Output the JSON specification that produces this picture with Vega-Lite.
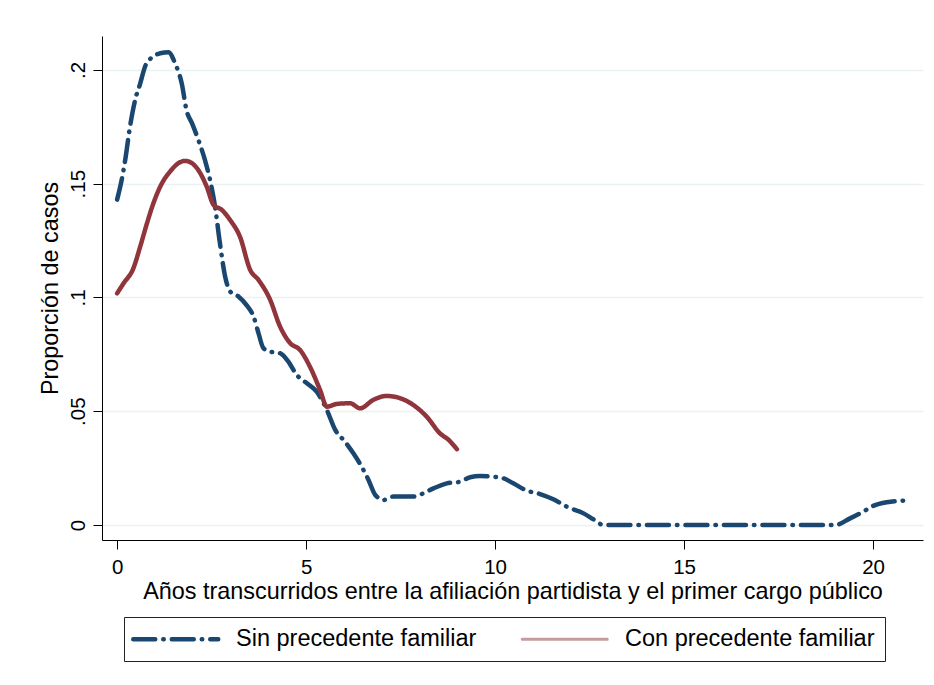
{
  "$schema": "https://vega.github.io/schema/vega-lite/v6.json",
  "width": 821,
  "height": 504,
  "autosize": {"type": "none"},
  "padding": {"left": 102, "top": 36, "right": 11, "bottom": 145},
  "background": "#ffffff",
  "config": {
    "view": {"stroke": null},
    "font": "Liberation Sans",
    "axis": {
      "domainColor": "#000000",
      "domainWidth": 1,
      "tickColor": "#000000",
      "tickWidth": 1,
      "tickSize": 9,
      "labelFont": "Liberation Sans",
      "labelFontSize": 20.5,
      "labelColor": "#000000",
      "titleFont": "Liberation Sans",
      "titleFontSize": 23.4,
      "titleFontWeight": "normal",
      "titleColor": "#000000",
      "gridColor": "#eaf2f3",
      "gridWidth": 1.5
    },
    "legend": {
      "orient": "none",
      "legendX": 22,
      "legendY": 581,
      "direction": "horizontal",
      "columns": 2,
      "strokeColor": "#222222",
      "strokeWidth": 1,
      "padding": 10,
      "symbolType": "M-3.4,0H3.4",
      "symbolSize": 625,
      "symbolStrokeWidth": 4.5,
      "symbolOffset": 30,
      "labelFont": "Liberation Sans",
      "labelFontSize": 23.5,
      "labelColor": "#000000",
      "labelOffset": 48.5,
      "columnPadding": 39,
      "labelLimit": 400
    }
  },
  "data": {
    "values": [
      {"x": 0, "y": 0.143, "s": "Sin precedente familiar"},
      {"x": 0.12, "y": 0.1516, "s": "Sin precedente familiar"},
      {"x": 0.21, "y": 0.160, "s": "Sin precedente familiar"},
      {"x": 0.34, "y": 0.175, "s": "Sin precedente familiar"},
      {"x": 0.48, "y": 0.187, "s": "Sin precedente familiar"},
      {"x": 0.61, "y": 0.194, "s": "Sin precedente familiar"},
      {"x": 0.74, "y": 0.2015, "s": "Sin precedente familiar"},
      {"x": 0.92, "y": 0.2055, "s": "Sin precedente familiar"},
      {"x": 1.14, "y": 0.2073, "s": "Sin precedente familiar"},
      {"x": 1.36, "y": 0.2078, "s": "Sin precedente familiar"},
      {"x": 1.53, "y": 0.203, "s": "Sin precedente familiar"},
      {"x": 1.71, "y": 0.194, "s": "Sin precedente familiar"},
      {"x": 1.84, "y": 0.182, "s": "Sin precedente familiar"},
      {"x": 1.98, "y": 0.1766, "s": "Sin precedente familiar"},
      {"x": 2.15, "y": 0.1692, "s": "Sin precedente familiar"},
      {"x": 2.33, "y": 0.160, "s": "Sin precedente familiar"},
      {"x": 2.46, "y": 0.1516, "s": "Sin precedente familiar"},
      {"x": 2.59, "y": 0.140, "s": "Sin precedente familiar"},
      {"x": 2.72, "y": 0.1238, "s": "Sin precedente familiar"},
      {"x": 2.86, "y": 0.109, "s": "Sin precedente familiar"},
      {"x": 2.99, "y": 0.1026, "s": "Sin precedente familiar"},
      {"x": 3.21, "y": 0.1004, "s": "Sin precedente familiar"},
      {"x": 3.43, "y": 0.0965, "s": "Sin precedente familiar"},
      {"x": 3.61, "y": 0.0916, "s": "Sin precedente familiar"},
      {"x": 3.74, "y": 0.0843, "s": "Sin precedente familiar"},
      {"x": 3.87, "y": 0.0777, "s": "Sin precedente familiar"},
      {"x": 4.05, "y": 0.0762, "s": "Sin precedente familiar"},
      {"x": 4.31, "y": 0.0755, "s": "Sin precedente familiar"},
      {"x": 4.53, "y": 0.0718, "s": "Sin precedente familiar"},
      {"x": 4.75, "y": 0.066, "s": "Sin precedente familiar"},
      {"x": 5.02, "y": 0.0623, "s": "Sin precedente familiar"},
      {"x": 5.28, "y": 0.0586, "s": "Sin precedente familiar"},
      {"x": 5.55, "y": 0.0505, "s": "Sin precedente familiar"},
      {"x": 5.77, "y": 0.0418, "s": "Sin precedente familiar"},
      {"x": 6.03, "y": 0.0366, "s": "Sin precedente familiar"},
      {"x": 6.25, "y": 0.0315, "s": "Sin precedente familiar"},
      {"x": 6.47, "y": 0.0256, "s": "Sin precedente familiar"},
      {"x": 6.65, "y": 0.0198, "s": "Sin precedente familiar"},
      {"x": 6.83, "y": 0.0132, "s": "Sin precedente familiar"},
      {"x": 7.05, "y": 0.011, "s": "Sin precedente familiar"},
      {"x": 7.31, "y": 0.0125, "s": "Sin precedente familiar"},
      {"x": 7.84, "y": 0.0125, "s": "Sin precedente familiar"},
      {"x": 8.1, "y": 0.0139, "s": "Sin precedente familiar"},
      {"x": 8.37, "y": 0.0161, "s": "Sin precedente familiar"},
      {"x": 8.72, "y": 0.0183, "s": "Sin precedente familiar"},
      {"x": 9.07, "y": 0.019, "s": "Sin precedente familiar"},
      {"x": 9.34, "y": 0.021, "s": "Sin precedente familiar"},
      {"x": 9.6, "y": 0.0215, "s": "Sin precedente familiar"},
      {"x": 9.96, "y": 0.0212, "s": "Sin precedente familiar"},
      {"x": 10.22, "y": 0.0205, "s": "Sin precedente familiar"},
      {"x": 10.48, "y": 0.0183, "s": "Sin precedente familiar"},
      {"x": 10.84, "y": 0.0151, "s": "Sin precedente familiar"},
      {"x": 11.19, "y": 0.0136, "s": "Sin precedente familiar"},
      {"x": 11.54, "y": 0.0113, "s": "Sin precedente familiar"},
      {"x": 11.9, "y": 0.008, "s": "Sin precedente familiar"},
      {"x": 12.34, "y": 0.0051, "s": "Sin precedente familiar"},
      {"x": 12.6, "y": 0.0025, "s": "Sin precedente familiar"},
      {"x": 12.87, "y": 0, "s": "Sin precedente familiar"},
      {"x": 14, "y": 0, "s": "Sin precedente familiar"},
      {"x": 16, "y": 0, "s": "Sin precedente familiar"},
      {"x": 18, "y": 0, "s": "Sin precedente familiar"},
      {"x": 19.0, "y": 0, "s": "Sin precedente familiar"},
      {"x": 19.39, "y": 0.0029, "s": "Sin precedente familiar"},
      {"x": 19.74, "y": 0.0059, "s": "Sin precedente familiar"},
      {"x": 20.0, "y": 0.0084, "s": "Sin precedente familiar"},
      {"x": 20.36, "y": 0.010, "s": "Sin precedente familiar"},
      {"x": 20.95, "y": 0.0108, "s": "Sin precedente familiar"},
      {"x": 0, "y": 0.1018, "s": "Con precedente familiar"},
      {"x": 0.17, "y": 0.1062, "s": "Con precedente familiar"},
      {"x": 0.43, "y": 0.1128, "s": "Con precedente familiar"},
      {"x": 0.61, "y": 0.1223, "s": "Con precedente familiar"},
      {"x": 0.79, "y": 0.1326, "s": "Con precedente familiar"},
      {"x": 0.96, "y": 0.1414, "s": "Con precedente familiar"},
      {"x": 1.18, "y": 0.150, "s": "Con precedente familiar"},
      {"x": 1.4, "y": 0.1553, "s": "Con precedente familiar"},
      {"x": 1.62, "y": 0.159, "s": "Con precedente familiar"},
      {"x": 1.8, "y": 0.160, "s": "Con precedente familiar"},
      {"x": 1.98, "y": 0.159, "s": "Con precedente familiar"},
      {"x": 2.2, "y": 0.1546, "s": "Con precedente familiar"},
      {"x": 2.37, "y": 0.1487, "s": "Con precedente familiar"},
      {"x": 2.55, "y": 0.1407, "s": "Con precedente familiar"},
      {"x": 2.77, "y": 0.1385, "s": "Con precedente familiar"},
      {"x": 2.99, "y": 0.134, "s": "Con precedente familiar"},
      {"x": 3.25, "y": 0.1267, "s": "Con precedente familiar"},
      {"x": 3.52, "y": 0.1121, "s": "Con precedente familiar"},
      {"x": 3.74, "y": 0.1077, "s": "Con precedente familiar"},
      {"x": 4.05, "y": 0.0989, "s": "Con precedente familiar"},
      {"x": 4.31, "y": 0.0872, "s": "Con precedente familiar"},
      {"x": 4.58, "y": 0.0799, "s": "Con precedente familiar"},
      {"x": 4.84, "y": 0.0769, "s": "Con precedente familiar"},
      {"x": 5.1, "y": 0.0696, "s": "Con precedente familiar"},
      {"x": 5.37, "y": 0.0593, "s": "Con precedente familiar"},
      {"x": 5.55, "y": 0.052, "s": "Con precedente familiar"},
      {"x": 5.81, "y": 0.0532, "s": "Con precedente familiar"},
      {"x": 6.16, "y": 0.0535, "s": "Con precedente familiar"},
      {"x": 6.43, "y": 0.0513, "s": "Con precedente familiar"},
      {"x": 6.78, "y": 0.055, "s": "Con precedente familiar"},
      {"x": 7.13, "y": 0.0567, "s": "Con precedente familiar"},
      {"x": 7.49, "y": 0.0557, "s": "Con precedente familiar"},
      {"x": 7.84, "y": 0.0527, "s": "Con precedente familiar"},
      {"x": 8.19, "y": 0.0476, "s": "Con precedente familiar"},
      {"x": 8.54, "y": 0.0403, "s": "Con precedente familiar"},
      {"x": 8.77, "y": 0.0374, "s": "Con precedente familiar"},
      {"x": 8.99, "y": 0.0333, "s": "Con precedente familiar"}
    ]
  },
  "mark": {"type": "line", "interpolate": "monotone", "strokeWidth": 4.5, "strokeCap": "round", "strokeJoin": "round"},
  "encoding": {
    "x": {
      "field": "x",
      "type": "quantitative",
      "scale": {"domain": [-0.4, 21.32], "nice": false, "zero": false},
      "axis": {
        "values": [0, 5, 10, 15, 20],
        "grid": false,
        "labelPadding": 8,
        "title": "Años transcurridos entre la afiliación partidista y el primer cargo público",
        "titleBaseline": "alphabetic",
        "titleX": 410.5,
        "titleY": 58
      }
    },
    "y": {
      "field": "y",
      "type": "quantitative",
      "scale": {"domain": [-0.0066, 0.2149], "nice": false, "zero": false},
      "axis": {
        "values": [0, 0.05, 0.1, 0.15, 0.2],
        "grid": true,
        "labelAngle": -90,
        "labelAlign": "center",
        "labelBaseline": "alphabetic",
        "labelPadding": 9,
        "labelExpr": "datum.value == 0 ? '0' : replace(format(datum.value, '.2~f'), '0.', '.')",
        "title": "Proporción de casos",
        "titleAngle": -90,
        "titleBaseline": "alphabetic",
        "titleX": -45,
        "titleY": 252
      }
    },
    "color": {
      "field": "s",
      "type": "nominal",
      "scale": {"domain": ["Sin precedente familiar", "Con precedente familiar"], "range": ["#1a476f", "#90353b"]},
      "legend": {"title": null, "encode": {"symbols": {"update": {
        "strokeCap": {"value": "round"},
        "strokeWidth": {"signal": "datum.value == 'Con precedente familiar' ? 3 : 4.5"},
        "strokeOpacity": {"signal": "datum.value == 'Con precedente familiar' ? 0.5 : 1"}
      }}}}
    },
    "strokeDash": {
      "field": "s",
      "type": "nominal",
      "scale": {"domain": ["Sin precedente familiar", "Con precedente familiar"], "range": [[22, 8, 0.5, 8], [1, 0]]},
      "legend": {"title": null, "encode": {"symbols": {"update": {
        "strokeCap": {"value": "round"},
        "strokeWidth": {"signal": "datum.value == 'Con precedente familiar' ? 3 : 4.5"},
        "strokeOpacity": {"signal": "datum.value == 'Con precedente familiar' ? 0.5 : 1"}
      }}}}
    }
  }
}
